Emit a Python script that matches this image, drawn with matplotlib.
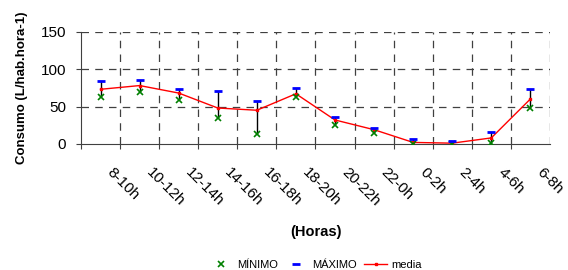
import numpy as np
import matplotlib
matplotlib.use("Agg")
import matplotlib.pyplot as plt
import matplotlib.transforms as mtransforms

plt.rcParams['font.family'] = ['Liberation Sans', 'DejaVu Sans']

horas = ['8-10h', '10-12h', '12-14h', '14-16h', '16-18h', '18-20h',
         '20-22h', '22-0h', '0-2h', '2-4h', '4-6h', '6-8h']
minimo = [63, 70, 59, 34, 13, 63, 25, 15, 0, 0, 1, 48]
maximo = [84, 85, 74, 71, 57, 75, 36, 21, 6, 4, 16, 74]
media = [73, 78, 68, 48, 45, 67, 32, 19, 2, 1, 8, 60]

fig = plt.figure(figsize=(5.68, 2.7), dpi=100)
ax = fig.add_axes([0.1426, 0.467, 0.8255, 0.4156])

x = np.arange(len(horas))
ax.vlines(x, minimo, maximo, color='black', lw=1, zorder=2)
ax.plot(x, minimo, 'x', color='green', ms=4.5, mew=1.2, label='MÍNIMO', zorder=4)
ax.plot(x, maximo, '_', color='blue', ms=6, mew=2, label='MÁXIMO', zorder=4)
ax.plot(x, media, '-s', color='red', lw=1, ms=2, label='media', zorder=3)

ax.set_xlim(-0.5, len(horas) - 0.5)
ax.set_ylim(0, 150)
ax.set_yticks([0, 50, 100, 150])
ax.set_xticks(x - 0.5, minor=False)
ax.set_xticklabels([])
ax.set_xticks(x, minor=True)
ax.set_xticklabels(horas, minor=True, rotation=-45, ha='left', va='top',
                   rotation_mode='anchor', fontsize=11)
ax.tick_params(axis='x', which='minor', length=0, pad=0)
ax.tick_params(axis='x', which='major', length=3.6, color='#404040')
ax.tick_params(axis='y', labelsize=11, length=3.6, pad=7, color='#404040')

# shift the slanted hour labels down and to the right
shift = mtransforms.ScaledTranslation(0.14, -0.21, fig.dpi_scale_trans)
for lbl in ax.get_xticklabels(minor=True):
    lbl.set_transform(lbl.get_transform() + shift)

# dashed grid at category boundaries incl. right edge
for xv in list(x + 0.5):
    ax.axvline(xv, color='#404040', ls=(0, (6, 5)), lw=0.9, zorder=1)
for yv in [50, 100, 150]:
    ax.axhline(yv, color='#404040', ls=(0, (6, 5)), lw=0.9, zorder=1)

ax.spines['top'].set_visible(False)
ax.spines['right'].set_visible(False)
ax.spines['left'].set_color('#404040')
ax.spines['bottom'].set_color('#404040')

ax.set_ylabel('Consumo (L/hab.hora-1)', fontsize=9.5, fontweight='bold',
              labelpad=9)
fig.text(0.556, 0.14, '(Horas)', ha='center', va='center', fontsize=10.5,
         fontweight='bold')

fig.legend(loc='center', bbox_to_anchor=(0.556, 0.019), ncol=3, frameon=False,
           fontsize=8, handlelength=2.1, handletextpad=0.4, columnspacing=0.6)

fig.savefig('out.png', dpi=100)
